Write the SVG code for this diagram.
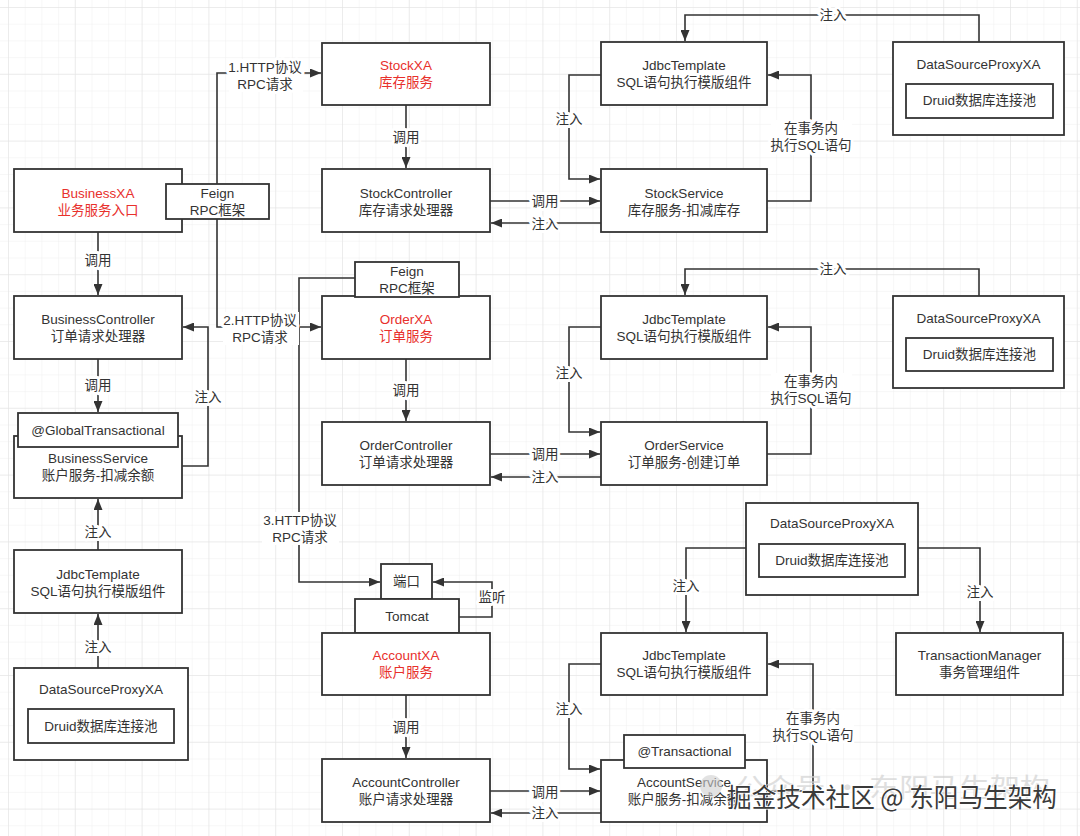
<svg xmlns="http://www.w3.org/2000/svg" width="1080" height="836" viewBox="0 0 1080 836">
<style>
.box{fill:#fff;stroke:#333;stroke-width:1.8}
.t{font-family:"Liberation Sans","Noto Sans CJK SC",sans-serif;font-size:13.5px;fill:#333;text-anchor:middle}
.red{fill:#e8302c}
.ln{fill:none;stroke:#333;stroke-width:1.6;marker-end:url(#ah)}
.bg{fill:#fff;stroke:none}
.lbl{font-family:"Liberation Sans","Noto Sans CJK SC",sans-serif;font-size:13.5px;fill:#333;text-anchor:middle;paint-order:stroke;stroke:#fff;stroke-width:6px;stroke-linejoin:round}
.wm{font-family:"Noto Sans CJK SC",sans-serif;font-size:26px}
</style>
<defs>
<marker id="ah" markerUnits="userSpaceOnUse" markerWidth="11" markerHeight="9" refX="11" refY="4.5" orient="auto">
<path d="M0,0 L11,4.5 L0,9 z" fill="#333"/>
</marker>
<pattern id="minor" width="16.7" height="16.7" patternUnits="userSpaceOnUse" patternTransform="translate(8,7)">
<path d="M0,0 H16.7 M0,0 V16.7" fill="none" stroke="#efefef" stroke-width="1"/>
</pattern>
<pattern id="major" width="66.8" height="66.8" patternUnits="userSpaceOnUse" patternTransform="translate(8,7)">
<path d="M0,0 H66.8 M0,0 V66.8" fill="none" stroke="#e2e2e2" stroke-width="1"/>
</pattern>
</defs>
<rect width="1080" height="836" fill="#fff"/>
<rect width="1080" height="836" fill="url(#minor)"/>
<rect width="1080" height="836" fill="url(#major)"/>

<g id="connectors">
<path class="ln" d="M217,184 V73 H321"/>
<path class="ln" d="M217,219 V327 H321"/>
<path class="ln" d="M355,278 H299 V582 H380"/>
<path class="ln" d="M459,617 H492 V582 H433"/>
<path class="ln" d="M98,232 V295"/>
<path class="ln" d="M98,359 V412"/>
<path class="ln" d="M182,466 H208 V327 H183"/>
<path class="ln" d="M98,550 V499"/>
<path class="ln" d="M98,668 V614"/>
<path class="ln" d="M406,105 V168"/>
<path class="ln" d="M406,359 V421"/>
<path class="ln" d="M406,695 V758"/>
<path class="ln" d="M490,201 H600"/>
<path class="ln" d="M601,223 H491"/>
<path class="ln" d="M601,75 H569 V179 H600"/>
<path class="ln" d="M767,201 H811 V75 H768"/>
<path class="ln" d="M979,42 V15 H685 V41"/>
<path class="ln" d="M490,454 H600"/>
<path class="ln" d="M601,477 H491"/>
<path class="ln" d="M601,327 H569 V432 H600"/>
<path class="ln" d="M767,454 H811 V327 H768"/>
<path class="ln" d="M979,296 V269 H685 V295"/>
<path class="ln" d="M746,548 H686 V632"/>
<path class="ln" d="M918,548 H980 V632"/>
<path class="ln" d="M601,664 H569 V769 H600"/>
<path class="ln" d="M767,791 H813 V664 H768"/>
<path class="ln" d="M490,791 H600"/>
<path class="ln" d="M601,813 H491"/>
<rect class="bg" x="229" y="59" width="74" height="33"/>
<rect class="bg" x="223" y="312" width="76" height="33"/>
<rect class="bg" x="262" y="512" width="77" height="33"/>
<rect class="bg" x="771" y="120" width="81" height="33"/>
<rect class="bg" x="771" y="373" width="81" height="33"/>
<rect class="bg" x="773" y="710" width="81" height="33"/>
<text class="lbl" x="265" y="72">1.HTTP协议</text>
<text class="lbl" x="265" y="89">RPC请求</text>
<text class="lbl" x="260" y="325">2.HTTP协议</text>
<text class="lbl" x="260" y="342">RPC请求</text>
<text class="lbl" x="300" y="525">3.HTTP协议</text>
<text class="lbl" x="300" y="542">RPC请求</text>
<text class="lbl" x="492" y="602">监听</text>
<text class="lbl" x="98" y="265">调用</text>
<text class="lbl" x="98" y="390">调用</text>
<text class="lbl" x="208" y="402">注入</text>
<text class="lbl" x="98" y="537">注入</text>
<text class="lbl" x="98" y="652">注入</text>
<text class="lbl" x="406" y="142">调用</text>
<text class="lbl" x="406" y="395">调用</text>
<text class="lbl" x="406" y="732">调用</text>
<text class="lbl" x="545" y="206">调用</text>
<text class="lbl" x="545" y="229">注入</text>
<text class="lbl" x="569" y="124">注入</text>
<text class="lbl" x="811" y="133">在事务内</text>
<text class="lbl" x="811" y="150">执行SQL语句</text>
<text class="lbl" x="833" y="20">注入</text>
<text class="lbl" x="545" y="459">调用</text>
<text class="lbl" x="545" y="482">注入</text>
<text class="lbl" x="569" y="378">注入</text>
<text class="lbl" x="811" y="386">在事务内</text>
<text class="lbl" x="811" y="403">执行SQL语句</text>
<text class="lbl" x="833" y="274">注入</text>
<text class="lbl" x="686" y="591">注入</text>
<text class="lbl" x="980" y="597">注入</text>
<text class="lbl" x="569" y="714">注入</text>
<text class="lbl" x="813" y="723">在事务内</text>
<text class="lbl" x="813" y="740">执行SQL语句</text>
<text class="lbl" x="545" y="797">调用</text>
<text class="lbl" x="545" y="818">注入</text>
</g>

<g id="BusinessXA"><rect class="box" x="14" y="169" width="168" height="63"/><text class="t red" x="98" y="198">BusinessXA</text><text class="t red" x="98" y="215">业务服务入口</text></g>
<g id="FeignTop"><rect class="box" x="166" y="184" width="103" height="35"/><text class="t" x="217.5" y="198">Feign</text><text class="t" x="217.5" y="215">RPC框架</text></g>
<g id="BusinessController"><rect class="box" x="14" y="296" width="168" height="63"/><text class="t" x="98" y="324">BusinessController</text><text class="t" x="98" y="341">订单请求处理器</text></g>
<g id="BusinessService"><rect class="box" x="14" y="436" width="168" height="62"/><text class="t" x="98" y="463">BusinessService</text><text class="t" x="98" y="480">账户服务-扣减余额</text></g>
<g id="GlobalTransactional"><rect class="box" x="18" y="413" width="160" height="34"/><text class="t" x="98" y="435">@GlobalTransactional</text></g>
<g id="JdbcTemplateLeft"><rect class="box" x="14" y="550" width="168" height="63"/><text class="t" x="98" y="579">JdbcTemplate</text><text class="t" x="98" y="596">SQL语句执行模版组件</text></g>
<g id="DataSourceLeft"><rect class="box" x="14" y="668" width="174" height="92"/><text class="t" x="101" y="694">DataSourceProxyXA</text><rect class="box" x="28" y="709" width="146" height="34"/><text class="t" x="101" y="731">Druid数据库连接池</text></g>

<g id="StockXA"><rect class="box" x="322" y="43" width="168" height="62"/><text class="t red" x="406" y="70">StockXA</text><text class="t red" x="406" y="87">库存服务</text></g>
<g id="StockController"><rect class="box" x="322" y="169" width="168" height="63"/><text class="t" x="406" y="198">StockController</text><text class="t" x="406" y="215">库存请求处理器</text></g>
<g id="OrderXA"><rect class="box" x="322" y="296" width="168" height="63"/><text class="t red" x="406" y="324">OrderXA</text><text class="t red" x="406" y="341">订单服务</text></g>
<g id="FeignOrder"><rect class="box" x="355" y="262" width="104" height="35"/><text class="t" x="407" y="276">Feign</text><text class="t" x="407" y="293">RPC框架</text></g>
<g id="OrderController"><rect class="box" x="322" y="422" width="168" height="63"/><text class="t" x="406" y="450">OrderController</text><text class="t" x="406" y="467">订单请求处理器</text></g>
<g id="Port"><rect class="box" x="381" y="564" width="51" height="35"/><text class="t" x="406.5" y="586">端口</text></g>
<g id="Tomcat"><rect class="box" x="355" y="599" width="104" height="34"/><text class="t" x="407" y="621">Tomcat</text></g>
<g id="AccountXA"><rect class="box" x="322" y="633" width="168" height="62"/><text class="t red" x="406" y="660">AccountXA</text><text class="t red" x="406" y="677">账户服务</text></g>
<g id="AccountController"><rect class="box" x="322" y="759" width="168" height="63"/><text class="t" x="406" y="787">AccountController</text><text class="t" x="406" y="804">账户请求处理器</text></g>

<g id="JdbcTemplateTop"><rect class="box" x="601" y="42" width="166" height="63"/><text class="t" x="684" y="70">JdbcTemplate</text><text class="t" x="684" y="87">SQL语句执行模版组件</text></g>
<g id="StockService"><rect class="box" x="601" y="169" width="166" height="63"/><text class="t" x="684" y="198">StockService</text><text class="t" x="684" y="215">库存服务-扣减库存</text></g>
<g id="DataSourceTop"><rect class="box" x="893" y="42" width="171" height="93"/><text class="t" x="978.5" y="69">DataSourceProxyXA</text><rect class="box" x="906" y="84" width="147" height="34"/><text class="t" x="979.5" y="105">Druid数据库连接池</text></g>
<g id="JdbcTemplateMid"><rect class="box" x="601" y="296" width="166" height="63"/><text class="t" x="684" y="324">JdbcTemplate</text><text class="t" x="684" y="341">SQL语句执行模版组件</text></g>
<g id="OrderService"><rect class="box" x="601" y="422" width="166" height="63"/><text class="t" x="684" y="450">OrderService</text><text class="t" x="684" y="467">订单服务-创建订单</text></g>
<g id="DataSourceMid"><rect class="box" x="893" y="296" width="171" height="92"/><text class="t" x="978.5" y="323">DataSourceProxyXA</text><rect class="box" x="906" y="338" width="147" height="33"/><text class="t" x="979.5" y="359">Druid数据库连接池</text></g>
<g id="DataSourceBottom"><rect class="box" x="746" y="503" width="172" height="92"/><text class="t" x="832" y="528">DataSourceProxyXA</text><rect class="box" x="759" y="544" width="146" height="33"/><text class="t" x="832" y="565">Druid数据库连接池</text></g>
<g id="JdbcTemplateBottom"><rect class="box" x="601" y="633" width="166" height="62"/><text class="t" x="684" y="660">JdbcTemplate</text><text class="t" x="684" y="677">SQL语句执行模版组件</text></g>
<g id="TransactionManager"><rect class="box" x="896" y="633" width="167" height="62"/><text class="t" x="979.5" y="660">TransactionManager</text><text class="t" x="979.5" y="677">事务管理组件</text></g>
<g id="AccountService"><rect class="box" x="601" y="760" width="166" height="62"/><text class="t" x="684" y="787">AccountService</text><text class="t" x="684" y="804">账户服务-扣减余额</text></g>
<g id="Transactional"><rect class="box" x="624" y="735" width="121" height="33"/><text class="t" x="684.5" y="756">@Transactional</text></g>

<g id="watermark">
<circle cx="711" cy="786" r="11" fill="#cfcfcf" opacity="0.6"/>
<text class="wm" x="735" y="797" fill="#d2d2d2" opacity="0.7" textLength="315" lengthAdjust="spacingAndGlyphs">公众号 · 东阳马生架构</text>
<text class="wm" x="727" y="807" fill="#3a3a3a" stroke="#fff" stroke-width="1.5" paint-order="stroke" textLength="330" lengthAdjust="spacingAndGlyphs">掘金技术社区 @ 东阳马生架构</text>
</g>
</svg>
